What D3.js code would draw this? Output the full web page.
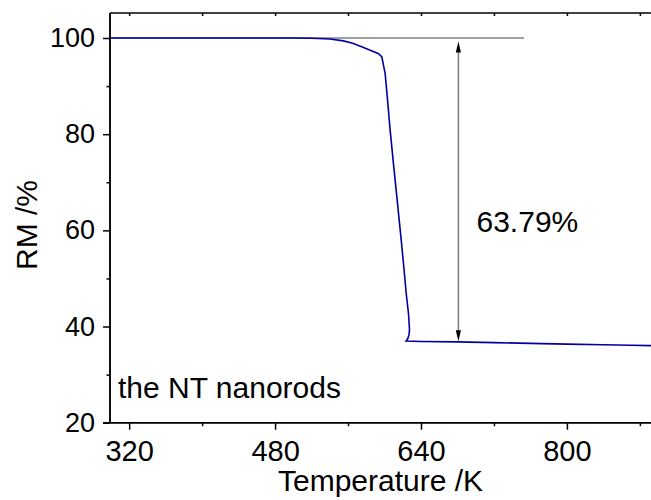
<!DOCTYPE html>
<html>
<head>
<meta charset="utf-8">
<script src="https://cdn.jsdelivr.net/npm/d3@7"></script>
<style>
  body { margin: 0; background: #fff; }
  text { font-family: "Liberation Sans", Arial, sans-serif; fill: #000; }
</style>
</head>
<body>
<script>
// RM curve (temperature in K, RM in %)
var temperature = [299, 340, 380, 420, 460, 500, 520, 540, 555, 565, 575, 585, 593, 597,
  600.7, 603, 606.2, 610, 613.5, 618, 620.8, 624, 626.3, 627.4, 626.8, 625.6, 623.7,
  640, 680, 720, 760, 800, 840, 870, 900];
var rm = [100, 100, 100, 100, 100, 100, 99.95, 99.8, 99.4, 98.9, 98.2, 97.4, 96.8, 96.1,
  92.6, 87.8, 80.8, 73.5, 67.0, 58.6, 53.1, 46.5, 42.7, 39.3, 38.3, 37.5, 37.0,
  36.9, 36.8, 36.65, 36.5, 36.35, 36.2, 36.1, 36.0];

var xMajor = [320, 480, 640, 800];
var xMinor = [400, 560, 720, 880];
var yMajor = [20, 40, 60, 80, 100];
var yMinor = [30, 50, 70, 90];

var refLevel = 100, refEnd = 753;        // horizontal reference line
var arrowT = 681, arrowTop = 100, arrowBottom = 36.95;
var dropLabel = "63.79%";
var sampleLabel = "the NT nanorods";

var W = 651, H = 500;
// note: "top" is taken by window.top, so use other names
var plotL = 110, plotT = 13, plotB = 422.7;

var svg = d3.select("body").append("svg")
  .attr("width", W).attr("height", H);

var x = d3.scaleLinear().domain([299, 900]).range([plotL, plotL + 601 * 0.912]);
var y = d3.scaleLinear().domain([20, 105.2]).range([plotB, plotT]);

// bottom axis
var gx = svg.append("g").attr("transform", "translate(0," + plotB + ")");
gx.call(d3.axisBottom(x).tickValues(xMajor).tickSize(7).tickFormat(d3.format("d")));
gx.append("g").call(d3.axisBottom(x).tickValues(xMinor).tickSize(3.5).tickFormat(""));
gx.selectAll("path.domain").attr("d", "M" + (plotL - 7) + ",0H" + W);
gx.selectAll(".tick text").style("font-size", "29px").attr("y", 38).attr("dy", null);

// top axis, ticks pointing in
var gt = svg.append("g").attr("transform", "translate(0," + plotT + ")");
gt.call(d3.axisBottom(x).tickValues(xMajor.concat(xMinor)).tickSize(3).tickFormat(""));
gt.selectAll("path.domain").attr("d", "M" + plotL + ",0H" + W);

// left axis
var gy = svg.append("g").attr("transform", "translate(" + plotL + ",0)");
gy.call(d3.axisLeft(y).tickValues(yMajor).tickSize(7));
gy.append("g").call(d3.axisLeft(y).tickValues(yMinor).tickSize(3.5).tickFormat(""));
gy.selectAll("path.domain").attr("d", "M0," + plotT + "V" + plotB);
gy.selectAll(".tick text").style("font-size", "27px").attr("x", -15).attr("dy", "8.5");

svg.selectAll(".domain, .tick line").attr("stroke", "#000").attr("stroke-width", 1.5);

// reference line at 100 %
svg.append("line")
  .attr("x1", x(299)).attr("x2", x(refEnd))
  .attr("y1", y(refLevel)).attr("y2", y(refLevel))
  .attr("stroke", "#808080").attr("stroke-width", 1.6);

// RM curve
var pts = d3.zip(temperature, rm);
svg.append("path")
  .datum(pts)
  .attr("fill", "none")
  .attr("stroke", "#0000a0")
  .attr("stroke-width", 1.6)
  .attr("d", d3.line().x(function(d) { return x(d[0]); }).y(function(d) { return y(d[1]); }));

// double arrow
var ax = x(arrowT), ay1 = y(arrowTop) + 3.5, ay2 = y(arrowBottom);
svg.append("line")
  .attr("x1", ax).attr("x2", ax)
  .attr("y1", ay1 + 6).attr("y2", ay2 - 6)
  .attr("stroke", "#808080").attr("stroke-width", 1.6);
svg.append("path")
  .attr("d", "M" + ax + "," + ay1 + "L" + (ax - 2.6) + "," + (ay1 + 11) + "L" + (ax + 2.6) + "," + (ay1 + 11) + "Z")
  .attr("fill", "#000");
svg.append("path")
  .attr("d", "M" + ax + "," + ay2 + "L" + (ax - 2.6) + "," + (ay2 - 11) + "L" + (ax + 2.6) + "," + (ay2 - 11) + "Z")
  .attr("fill", "#000");

svg.append("text")
  .attr("x", 476.5).attr("y", 232)
  .style("font-size", "30px")
  .text(dropLabel);

svg.append("text")
  .attr("x", 118).attr("y", 398)
  .style("font-size", "30px")
  .text(sampleLabel);

// axis titles
svg.append("text")
  .attr("x", (plotL + W) / 2).attr("y", 491)
  .attr("text-anchor", "middle")
  .style("font-size", "30px")
  .text("Temperature /K");

svg.append("text")
  .attr("transform", "translate(36.5,225) rotate(-90)")
  .attr("text-anchor", "middle")
  .style("font-size", "30px")
  .text("RM /%");
</script>
</body>
</html>
